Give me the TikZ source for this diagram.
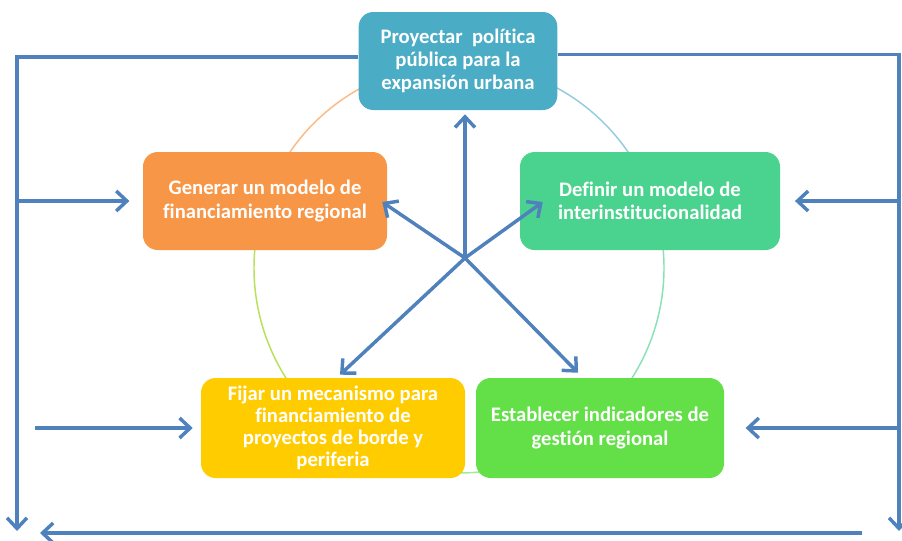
\documentclass[tikz,border=0pt]{standalone}
\usepackage{fontspec}
\setmainfont{Carlito}[Ligatures=NoCommon]
\usepackage{tikz}
\usetikzlibrary{arrows.meta,positioning,calc}
\definecolor{linkblue}{RGB}{79,129,189}
\definecolor{topblue}{RGB}{75,172,198}
\definecolor{genorange}{RGB}{247,150,70}
\definecolor{defgreen}{RGB}{74,211,142}
\definecolor{fijyellow}{RGB}{255,204,0}
\definecolor{estgreen}{RGB}{99,224,72}

\begin{document}
\begin{tikzpicture}[x=0.75pt, y=-0.75pt,
  box/.style={rounded corners=11pt, text=white, align=center, inner sep=2pt,
    minimum height=73.5pt, font=\fontsize{15.5}{17.3}\selectfont\bfseries},
  flow/.style={linkblue, line width=2.6pt, -{Straight Barb[length=8pt,width=15pt]}},
  ring/.style={line width=1.1pt}]
\useasboundingbox (0,0) rectangle (902,540);
% ---- ring behind the boxes
\coordinate (ringc) at (459,268);
\draw[ring, color=topblue!60] (ringc) ++(270:205) arc[start angle=270, end angle=340, radius=205];
\draw[ring, color=defgreen!65] (ringc) ++(340:205) arc[start angle=340, end angle=410, radius=205];
\draw[ring, color=estgreen!60] (ringc) ++(50:205) arc[start angle=50, end angle=128, radius=205];
\draw[ring, color=yellow!60!green!70] (ringc) ++(128:205) arc[start angle=128, end angle=199, radius=205];
\draw[ring, color=genorange!65] (ringc) ++(199:205) arc[start angle=199, end angle=270, radius=205];
% ---- the five steps
\node[box, fill=topblue, minimum width=149pt] (proy) at (458,61)
  {Proyectar~ política\\pública para la\\expansión urbana};
\node[box, fill=genorange, minimum width=183pt] (gen) at (265,201)
  {Generar un modelo de\\financiamiento regional};
\node[box, fill=defgreen, minimum width=195pt] (def) at (650,201)
  {Definir un modelo de\\interinstitucionalidad};
\node[box, fill=fijyellow, minimum width=198pt, minimum height=75pt,
  font=\fontsize{15.5}{16.5}\selectfont\bfseries] (fij) at (333,428)
  {Fijar un mecanismo para\\financiamiento de\\proyectos de borde y\\periferia};
\node[box, fill=estgreen, minimum width=186pt, minimum height=75pt] (est) at (600,428)
  {Establecer indicadores de\\gestión regional};
% ---- star from the hub
\coordinate (hub) at (465,258);
\draw[flow] (hub) -- ($(proy.south -| hub)+(0,4)$);
\draw[flow] (hub) -- ($(gen.east)+(-5,1)$);
\draw[flow] (hub) -- ($(def.west)+(23,1)$);
\draw[flow] (hub) -- ($(fij.north)+(7,-3)$);
\draw[flow] (hub) -- ($(est.north)+(-22,-5)$);
% ---- feedback frame
\coordinate (lbot) at (17,531);
\coordinate (rbot) at (899,531);
\coordinate (fijin) at (35,428);
\coordinate (botr) at (862,533);
\coordinate (botl) at (40,533);
\draw[flow] ([yshift=3pt]proy.west) -| (lbot);
\draw[flow] ([yshift=5pt]proy.east) -| (rbot);
\draw[flow] (lbot |- gen.west) -- ([xshift=-10pt]gen.west);
\draw[flow] (fijin) -- ([xshift=-6pt]fij.west);
\draw[flow] (rbot |- def.east) -- ([xshift=11pt]def.east);
\draw[flow] (rbot |- est.east) -- ([xshift=16pt]est.east);
\draw[flow] (botr) -- (botl);
\end{tikzpicture}
\end{document}
